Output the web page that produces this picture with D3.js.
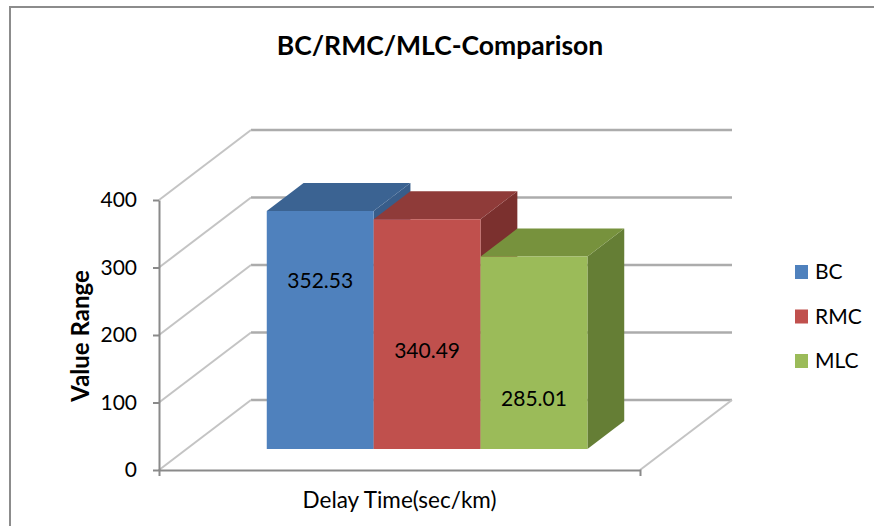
<!DOCTYPE html>
<html>
<head>
<meta charset="utf-8">
<script src="https://cdn.jsdelivr.net/npm/d3@7/dist/d3.min.js"></script>
<style>
  html, body { margin: 0; padding: 0; background: #fff; }
  svg { display: block; font-family: Lato, "Open Sans", sans-serif; }
</style>
</head>
<body>
<svg id="chart" width="874" height="526"></svg>
<script>
// Chart data
const chartTitle = "BC/RMC/MLC-Comparison";
const xTitle = "Delay Time(sec/km)";
const yTitle = "Value Range";
const categories = ["Delay Time"];
const seriesNames = ["BC", "RMC", "MLC"];
const seriesValues = [352.53, 340.49, 285.01];
const yTickValues = [0, 100, 200, 300, 400];

// Bar face colours: front, top, side
const palette = {
  BC:  { front: "#4f81bd", top: "#3b6392", side: "#385d8a" },
  RMC: { front: "#c0504d", top: "#8f3b39", side: "#7b302e" },
  MLC: { front: "#9bbb59", top: "#77923d", side: "#657e35" }
};

const svg = d3.select("#chart");

// Outer chart frame
svg.append("path")
  .attr("d", "M10,530V7H880")
  .attr("fill", "none")
  .attr("stroke", "#8c8c8c")
  .attr("stroke-width", 2);

// Front-plane scales and oblique depth offset
const y = d3.scaleLinear().domain([0, 400]).range([470, 200]);
const x = d3.scaleBand().domain(categories).range([159, 640]);
const xs = d3.scaleBand().domain(seriesNames)
  .range(x.range()).paddingInner(0).paddingOuter(0.75);
const DX = 92, DY = 70;
const proj = (px, v, d) => [px + d * DX, y(v) - d * DY];

const x0 = x.range()[0], x1 = x.range()[1];
const walls = svg.append("g");

// Back-wall gridlines
walls.selectAll("line.grid").data(yTickValues).join("line")
  .attr("class", "grid")
  .attr("x1", d => proj(x0, d, 1)[0]).attr("y1", d => proj(x0, d, 1)[1])
  .attr("x2", d => proj(x1, d, 1)[0]).attr("y2", d => proj(x1, d, 1)[1])
  .attr("stroke", "#acacac").attr("stroke-width", 2.5);

// Side-wall gridlines running from the axis into depth
walls.selectAll("line.side").data(yTickValues).join("line")
  .attr("class", "side")
  .attr("x1", d => proj(x0, d, 0)[0]).attr("y1", d => proj(x0, d, 0)[1])
  .attr("x2", d => proj(x0, d, 1)[0]).attr("y2", d => proj(x0, d, 1)[1])
  .attr("stroke", "#c4c4c4").attr("stroke-width", 2);

// Floor right edge
walls.append("line")
  .attr("x1", proj(x1, 0, 0)[0]).attr("y1", proj(x1, 0, 0)[1])
  .attr("x2", proj(x1, 0, 1)[0]).attr("y2", proj(x1, 0, 1)[1])
  .attr("stroke", "#c4c4c4").attr("stroke-width", 2);

// Axes
const yAxis = svg.append("g")
  .attr("transform", `translate(${x0},0)`)
  .call(d3.axisLeft(y).tickValues(yTickValues).tickSizeInner(6).tickSizeOuter(0).tickPadding(16));
const xAxis = svg.append("g")
  .attr("transform", `translate(0,${y(0)})`)
  .call(d3.axisBottom(x).tickSizeInner(0).tickSizeOuter(6).tickFormat(""));
[yAxis, xAxis].forEach(g => {
  g.selectAll("path, line").attr("stroke", "#8a8a8a").attr("stroke-width", 2);
});
yAxis.selectAll("text")
  .attr("font-size", 21).attr("fill", "#000")
  .attr("font-family", "Lato, sans-serif");

// 3D bars, painted left to right
const D0 = 0.3, D1 = 0.7;
const bars = svg.append("g");
const rows = seriesNames.map((s, i) => ({ name: s, value: seriesValues[i] }));
const poly = pts => "M" + pts.map(p => p.join(",")).join("L") + "Z";

rows.forEach(r => {
  const l = xs(r.name), rr = l + xs.bandwidth();
  const g = bars.append("g");
  // side face
  g.append("path")
    .attr("d", poly([proj(rr, 0, D0), proj(rr, 0, D1), proj(rr, r.value, D1), proj(rr, r.value, D0)]))
    .attr("fill", palette[r.name].side);
  // top face
  g.append("path")
    .attr("d", poly([proj(l, r.value, D0), proj(l, r.value, D1), proj(rr, r.value, D1), proj(rr, r.value, D0)]))
    .attr("fill", palette[r.name].top);
  // front face
  g.append("path")
    .attr("d", poly([proj(l, 0, D0), proj(l, r.value, D0), proj(rr, r.value, D0), proj(rr, 0, D0)]))
    .attr("fill", palette[r.name].front);
});

// Value labels on the front faces
const labelFrac = { BC: 0.71, RMC: 0.43, MLC: 0.26 };
bars.selectAll("text.value").data(rows).join("text")
  .attr("class", "value")
  .attr("x", d => proj(xs(d.name) + xs.bandwidth() / 2, 0, D0)[0])
  .attr("y", d => proj(0, d.value * labelFrac[d.name], D0)[1] + 7.5)
  .attr("text-anchor", "middle")
  .attr("font-size", 21)
  .attr("fill", "#000")
  .text(d => d.value.toFixed(2));

// Titles
svg.append("text")
  .attr("x", 440).attr("y", 55)
  .attr("text-anchor", "middle")
  .attr("font-size", 26.5).attr("font-weight", "bold")
  .text(chartTitle);

svg.append("text")
  .attr("transform", "translate(89,336) rotate(-90)")
  .attr("text-anchor", "middle")
  .attr("font-size", 24).attr("font-weight", "bold")
  .text(yTitle);

svg.append("text")
  .attr("x", (x0 + x1) / 2).attr("y", 508)
  .attr("text-anchor", "middle")
  .attr("font-size", 22.5)
  .text(xTitle);

// Legend
const legend = svg.append("g").attr("transform", "translate(795,265)");
const li = legend.selectAll("g").data(seriesNames).join("g")
  .attr("transform", (d, i) => `translate(0,${i * 44.5})`);
li.append("rect")
  .attr("width", 13).attr("height", 14)
  .attr("fill", d => palette[d].front);
li.append("text")
  .attr("x", 20).attr("y", 14)
  .attr("font-size", 21)
  .text(d => d);
</script>
</body>
</html>
